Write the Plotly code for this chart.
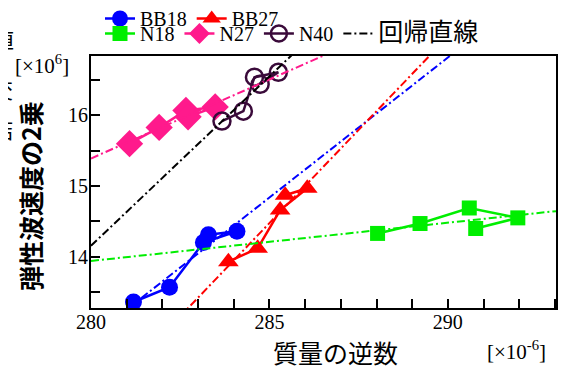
import numpy as np
import plotly.graph_objects as go

# ---- data (x: 質量の逆数 [×10^-6], y: 弾性波速度の2乗 [×10^6]) ----
bb18_x = [281.19, 282.20, 283.15, 284.09, 283.29]
bb18_y = [13.36, 13.57, 14.20, 14.36, 14.31]
bb27_x = [283.85, 284.67, 285.30, 286.06, 285.44]
bb27_y = [13.93, 14.12, 14.66, 14.97, 14.87]
n18_x = [288.03, 289.22, 290.60, 291.96, 290.78]
n18_y = [14.33, 14.47, 14.69, 14.55, 14.40]
n27_x = [281.08, 281.91, 282.66, 283.48, 282.72]
n27_y = [15.60, 15.83, 16.07, 16.12, 15.98]
n40_x = [283.67, 284.27, 284.58, 285.25, 284.74]
n40_y = [15.92, 16.06, 16.54, 16.61, 16.44]

x_range = [280, 293.03]
y_range = [13.275, 16.84]
x_ticks = [280, 285, 290]
y_ticks = [14, 15, 16]

series = [
    dict(name="BB18", x=bb18_x, y=bb18_y, color="#0000ff", symbol="circle", size=17, legend="legend", open=False),
    dict(name="BB27", x=bb27_x, y=bb27_y, color="#ff0000", symbol="triangle-up", size=18, legend="legend", open=False),
    dict(name="N18", x=n18_x, y=n18_y, color="#00ee00", symbol="square", size=15, legend="legend2", open=False),
    dict(name="N27", x=n27_x, y=n27_y, color="#ff1a8c", symbol="diamond", size=21, legend="legend2", open=False),
    dict(name="N40", x=n40_x, y=n40_y, color="#3a0a3a", symbol="circle-open", size=17, legend="legend2", open=True),
]
reg_colors = {"BB18": "#0000ff", "BB27": "#ff0000", "N18": "#00ee00", "N27": "#ff1a8c", "N40": "#000000"}

serif = "Liberation Serif, Times New Roman, serif"
cjk = "Noto Sans CJK JP"

fig = go.Figure()
rank = 1
for s in series:
    marker = dict(symbol=s["symbol"], size=s["size"], color=s["color"])
    if s["open"]:
        marker = dict(symbol=s["symbol"], size=s["size"], color=s["color"], line=dict(width=2.5, color=s["color"]))
    fig.add_trace(go.Scatter(
        x=s["x"], y=s["y"], mode="lines+markers", name=s["name"],
        line=dict(color=s["color"], width=2.5), marker=marker,
        legend=s["legend"], legendrank=rank,
    ))
    rank += 1

dash = "8px,3px,2px,3px"
for s in series:
    k, b = np.polyfit(s["x"], s["y"], 1)
    xs = np.array(x_range)
    is_n40 = s["name"] == "N40"
    fig.add_trace(go.Scatter(
        x=xs, y=k * xs + b, mode="lines",
        name='<span style="font-family:Noto Sans CJK JP;font-size:25px">回帰直線</span>' if is_n40 else s["name"] + " fit",
        line=dict(color=reg_colors[s["name"]], width=2, dash=dash),
        showlegend=is_n40, legend="legend2", legendrank=10, hoverinfo="skip",
    ))

axis_common = dict(
    showline=True, linecolor="black", linewidth=2, mirror=True,
    ticks="inside", ticklen=9, tickwidth=2, tickcolor="black",
    showgrid=False, zeroline=False,
    tickfont=dict(family=serif, size=20, color="black"),
)
fig.update_xaxes(range=x_range, tickvals=x_ticks, ticklabelstandoff=-5,
                 minor=dict(dtick=1, ticks="inside", ticklen=9, tickwidth=2, tickcolor="black", showgrid=False),
                 **axis_common)
fig.update_yaxes(range=y_range, tickvals=y_ticks, ticklabelstandoff=-3,
                 minor=dict(dtick=0.5, ticks="inside", ticklen=9, tickwidth=2, tickcolor="black", showgrid=False),
                 **axis_common)

# page has an 8px body margin; positions below are in screen pixels
PW, PH = 465, 252
def px(x):
    return (x - 91) / PW
def py(y):
    return (308 - y) / PH

fig.update_layout(
    width=562, height=362,
    margin=dict(l=83, r=14, t=48, b=62, autoexpand=False),
    paper_bgcolor="white", plot_bgcolor="white",
    showlegend=True,
    legend=dict(orientation="h", x=px(100), y=py(-1), xanchor="left", yanchor="top",
                font=dict(family=serif, size=20, color="black"),
                bgcolor="rgba(0,0,0,0)", itemwidth=30, tracegroupgap=0),
    legend2=dict(orientation="h", x=px(100), y=py(14), xanchor="left", yanchor="top",
                 font=dict(family=serif, size=20, color="black"),
                 bgcolor="rgba(0,0,0,0)", itemwidth=30, tracegroupgap=0),
    annotations=[
        dict(text="<b>弾性波速度の2乗</b>", textangle=-90, xref="paper", yref="paper",
             x=px(30), y=py(196), xanchor="center", yanchor="middle",
             showarrow=False, font=dict(family=cjk, size=25, color="black")),
        dict(text="質量の逆数", xref="paper", yref="paper",
             x=px(335), y=py(352), xanchor="center", yanchor="middle",
             showarrow=False, font=dict(family=cjk, size=25, color="black")),
        dict(text="[×10<sup>-6</sup>]", xref="paper", yref="paper",
             x=px(516), y=py(350), xanchor="center", yanchor="middle",
             showarrow=False, font=dict(family=serif, size=21, color="black")),
        dict(text="[×10<sup>6</sup>]", xref="paper", yref="paper",
             x=px(42), y=py(64), xanchor="center", yanchor="middle",
             showarrow=False, font=dict(family=serif, size=21, color="black")),
        dict(text="値", xref="paper", yref="paper",
             x=px(3), y=py(38), xanchor="center", yanchor="middle",
             showarrow=False, font=dict(family=cjk, size=22, color="black")),
        dict(text="交", xref="paper", yref="paper",
             x=px(2), y=py(88), xanchor="center", yanchor="middle",
             showarrow=False, font=dict(family=cjk, size=22, color="black")),
        dict(text="詰", xref="paper", yref="paper",
             x=px(2), y=py(128), xanchor="center", yanchor="middle",
             showarrow=False, font=dict(family=cjk, size=22, color="black")),
    ],
)

fig.write_html("out.html")
